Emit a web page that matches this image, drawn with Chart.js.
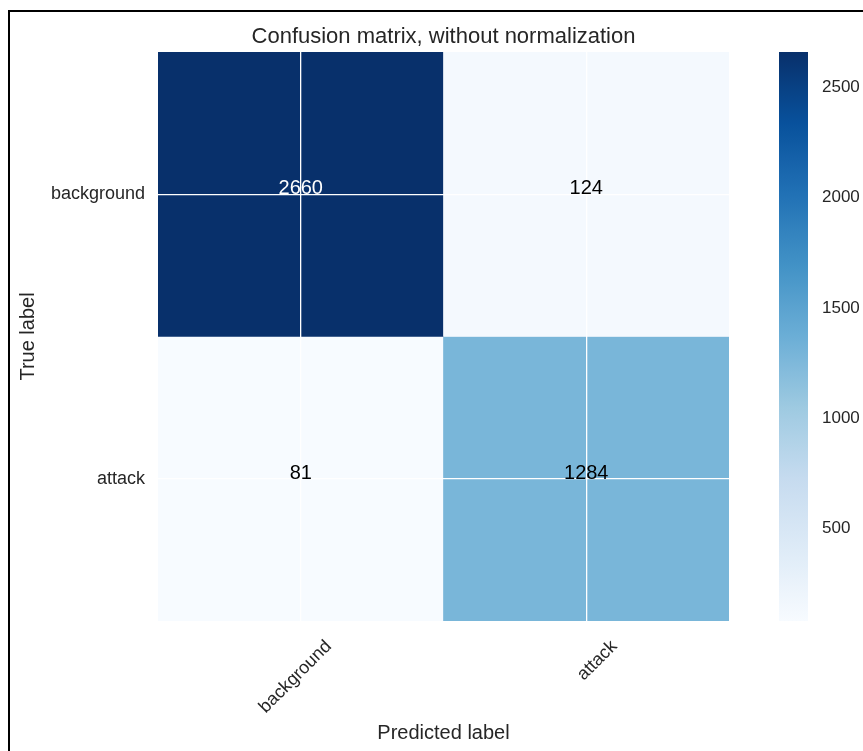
<!DOCTYPE html>
<html>
<head>
<meta charset="utf-8">
<script src="https://cdn.jsdelivr.net/npm/chart.js@4/dist/chart.umd.min.js"></script>
<style>
  html, body { margin: 0; padding: 0; background: #fff; overflow: hidden; }
  body { width: 863px; height: 751px; position: relative; }
  #frame { position: absolute; left: 8px; top: 10px; width: 900px; height: 800px; border: 2px solid #000; box-sizing: border-box; }
  #matrix { position: absolute; left: 0; top: 0; }
  #colorbar { position: absolute; left: 760px; top: 0; }
</style>
</head>
<body>
<div id="frame"></div>
<canvas id="matrix" width="863" height="751"></canvas>
<canvas id="colorbar" width="103" height="751"></canvas>
<script>
// Class names on both axes
const predictedLabels = ['background', 'attack'];
const trueLabels = ['background', 'attack'];
// One row of counts per true label
const countsBackground = [2660, 124];
const countsAttack = [81, 1284];
// Colour bar tick values
const colorbarTicks = [500, 1000, 1500, 2000, 2500];

const rows = [countsBackground, countsAttack];
const allCounts = rows.flat();
const vmin = Math.min(...allCounts);
const vmax = Math.max(...allCounts);

const FONT = '"Liberation Sans", Arial, sans-serif';
const TEXT = '#262626';

// matplotlib "Blues" colour map stops
const BLUES = ['#f7fbff', '#deebf7', '#c6dbef', '#9ecae1', '#6baed6', '#4292c6', '#2171b5', '#08519c', '#08306b'];
function hexToRgb(h) {
  return [parseInt(h.slice(1, 3), 16), parseInt(h.slice(3, 5), 16), parseInt(h.slice(5, 7), 16)];
}
function blues(t) {
  t = Math.max(0, Math.min(1, t));
  const pos = t * (BLUES.length - 1);
  const i = Math.min(Math.floor(pos), BLUES.length - 2);
  const f = pos - i;
  const a = hexToRgb(BLUES[i]), b = hexToRgb(BLUES[i + 1]);
  const c = a.map((v, k) => Math.round(v + (b[k] - v) * f));
  return `rgb(${c[0]},${c[1]},${c[2]})`;
}
const norm = v => (v - vmin) / (vmax - vmin);

// Count written in the middle of every cell
const cellText = {
  id: 'cellText',
  afterDraw(chart) {
    const {ctx, scales: {x, y}} = chart;
    ctx.save();
    ctx.font = `20px ${FONT}`;
    ctx.textAlign = 'center';
    ctx.textBaseline = 'alphabetic';
    rows.forEach((row, i) => {
      row.forEach((v, j) => {
        ctx.fillStyle = v > vmax / 2 ? '#ffffff' : '#000000';
        ctx.fillText(String(v), x.getPixelForValue(j), y.getPixelForValue(i));
      });
    });
    ctx.restore();
  }
};

new Chart(document.getElementById('matrix'), {
  type: 'bar',
  data: {
    labels: predictedLabels,
    datasets: rows.map((row, i) => ({
      label: trueLabels[i],
      data: row.map(() => [i - 0.5, i + 0.5]),
      backgroundColor: row.map(v => blues(norm(v))),
      borderWidth: 0,
      barPercentage: 1,
      categoryPercentage: 1,
      grouped: false
    }))
  },
  options: {
    responsive: false,
    animation: false,
    events: [],
    layout: { padding: { left: 0, right: 134, top: 0, bottom: 0 } },
    plugins: {
      legend: { display: false },
      tooltip: { enabled: false },
      title: {
        display: true,
        fullSize: false,
        text: 'Confusion matrix, without normalization',
        color: TEXT,
        font: { family: FONT, size: 22, weight: 'normal' },
        padding: { top: 24, bottom: 1.6 }
      }
    },
    scales: {
      x: {
        type: 'category',
        offset: true,
        grid: { offset: false, color: '#ffffff', lineWidth: 1.3, drawTicks: false, z: 1 },
        border: { display: false },
        ticks: {
          color: TEXT,
          font: { family: FONT, size: 18 },
          minRotation: 45,
          maxRotation: 45,
          padding: 15,
          labelOffset: 28
        },
        title: {
          display: true,
          text: 'Predicted label',
          color: TEXT,
          font: { family: FONT, size: 20 },
          padding: { top: 0, bottom: 6 }
        },
        afterFit(scale) { scale.height = 130; }
      },
      y: {
        type: 'linear',
        min: -0.5,
        max: 1.5,
        reverse: true,
        grid: { color: '#ffffff', lineWidth: 1.3, drawTicks: false, z: 1 },
        border: { display: false },
        afterBuildTicks(scale) { scale.ticks = trueLabels.map((_, i) => ({ value: i })); },
        ticks: {
          color: TEXT,
          font: { family: FONT, size: 18 },
          padding: 13,
          callback: v => trueLabels[v]
        },
        title: {
          display: true,
          text: 'True label',
          color: TEXT,
          font: { family: FONT, size: 20 },
          padding: { top: 16, bottom: 0 }
        },
        afterFit(scale) { scale.width = 158; }
      }
    }
  },
  plugins: [cellText]
});

// Colour bar: one floating bar spanning the value range, filled with the map
new Chart(document.getElementById('colorbar'), {
  type: 'bar',
  data: {
    labels: [''],
    datasets: [{
      data: [[vmin, vmax]],
      barPercentage: 1,
      categoryPercentage: 1,
      borderWidth: 0,
      backgroundColor(context) {
        const chart = context.chart;
        if (!chart.chartArea) return BLUES[4];
        const ys = chart.scales.y;
        const g = chart.ctx.createLinearGradient(0, ys.getPixelForValue(vmin), 0, ys.getPixelForValue(vmax));
        for (let k = 0; k <= 32; k++) g.addColorStop(k / 32, blues(k / 32));
        return g;
      }
    }]
  },
  options: {
    responsive: false,
    animation: false,
    events: [],
    layout: { padding: { left: 19, right: 0, top: 52, bottom: 130 } },
    plugins: { legend: { display: false }, tooltip: { enabled: false } },
    scales: {
      x: { display: false },
      y: {
        type: 'linear',
        position: 'right',
        min: vmin,
        max: vmax,
        grid: { display: false, drawTicks: false },
        border: { display: false },
        afterBuildTicks(scale) { scale.ticks = colorbarTicks.map(v => ({ value: v })); },
        ticks: {
          color: TEXT,
          font: { family: FONT, size: 17 },
          padding: 14,
          callback: v => String(v)
        },
        afterFit(scale) { scale.width = 55; }
      }
    }
  }
});
</script>
</body>
</html>
